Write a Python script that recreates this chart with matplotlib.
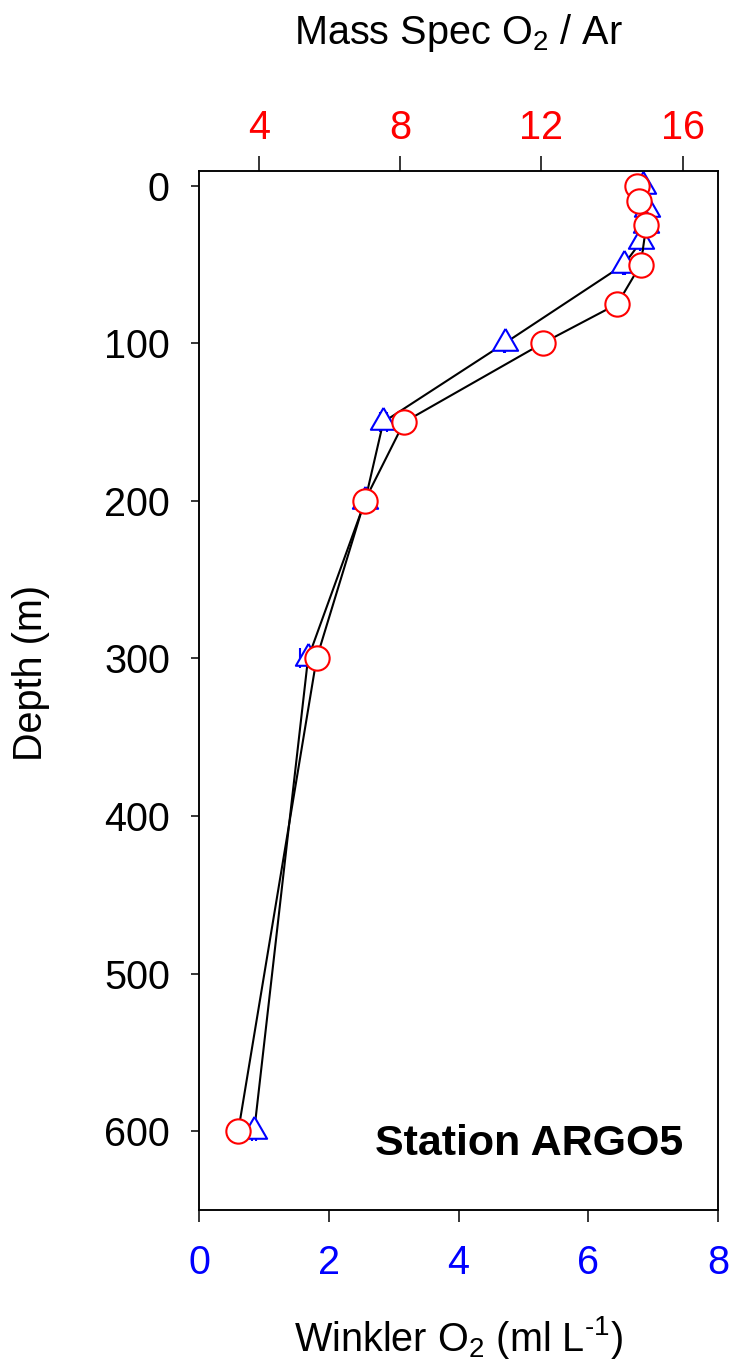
import numpy as np
import matplotlib
matplotlib.use("Agg")
import matplotlib.pyplot as plt

plt.rcParams['font.family'] = ['Liberation Sans', 'DejaVu Sans']
plt.rcParams['mathtext.fontset'] = 'custom'
plt.rcParams['mathtext.rm'] = 'Liberation Sans'

# Winkler titration (bottom axis, blue triangles)
depth_wink = [0, 15, 25, 35, 50, 100, 150, 200, 300, 600]
winkler = [6.84, 6.91, 6.89, 6.82, 6.55, 4.71, 2.84, 2.56, 1.68, 0.85]
winkler_err = [0.02, 0.02, 0.02, 0.02, 0.01, 0.01, 0.05, 0.03, 0.12, 0.035]

# Mass spec O2/Ar (top axis, red circles)
depth_ms = [0, 10, 25, 50, 75, 100, 150, 200, 300, 600]
o2ar = [14.70, 14.77, 14.97, 14.81, 14.15, 12.03, 8.11, 6.99, 5.63, 3.41]

wink_ticks = [0, 2, 4, 6, 8]
ms_ticks = [4, 8, 12, 16]
depth_ticks = [0, 100, 200, 300, 400, 500, 600]

fs = 28.5
# triangle centred on its centroid (like SigmaPlot)
tri = [(0, 0.667), (-0.577, -0.333), (0.577, -0.333), (0, 0.667)]

fig = plt.figure(figsize=(7.32, 13.66), dpi=100)
ax = fig.add_axes([0.2719, 0.1142, 0.7090, 0.7608])

ax.errorbar(winkler, depth_wink, xerr=winkler_err, color='black', lw=1.5,
            marker=tri, ms=21, mfc='white', mec='blue', mew=1.5,
            ecolor='blue', elinewidth=1.4, capsize=7.2, capthick=1.4)
ax.set_xlim(0, 8)
ax.set_ylim(650, -9.5)
ax.set_xticks(wink_ticks)
ax.set_yticks(depth_ticks)
ax.tick_params(axis='x', direction='out', length=8.5, width=1.1, pad=16,
               labelsize=fs, labelcolor='blue', top=False)
ax.tick_params(axis='y', direction='out', length=6, width=1.1, pad=15,
               labelsize=fs, right=False)
for s in ax.spines.values():
    s.set_linewidth(1.1)

ax.set_ylabel('Depth (m)', fontsize=fs)
ax.yaxis.set_label_coords(-0.287, 0.517)
ax.set_xlabel(r'Winkler O$\mathregular{_2}$ (ml L$\mathregular{^{\text{-}1}}$)', fontsize=fs)
ax.xaxis.set_label_coords(0.5, -0.100)

ax2 = ax.twiny()
ax2.plot(o2ar, depth_ms, color='black', lw=1.5, marker='o', ms=17.5,
         mfc='white', mec='red', mew=1.5)
ax2.set_xlim(2.3, 17.0)
ax2.set_xticks(ms_ticks)
ax2.tick_params(axis='x', direction='out', length=11, width=1.1, pad=6,
                labelsize=fs, labelcolor='red')
ax2.set_xlabel(r'Mass Spec O$\mathregular{_2}$ / Ar', fontsize=fs)
ax2.xaxis.set_label_coords(0.5, 1.122)
for s in ax2.spines.values():
    s.set_linewidth(1.1)

ax.text(0.9326, 0.0529, 'Station ARGO5', transform=ax.transAxes,
        ha='right', va='baseline', fontsize=31, fontweight='bold')

fig.savefig('out.png', dpi=100)
